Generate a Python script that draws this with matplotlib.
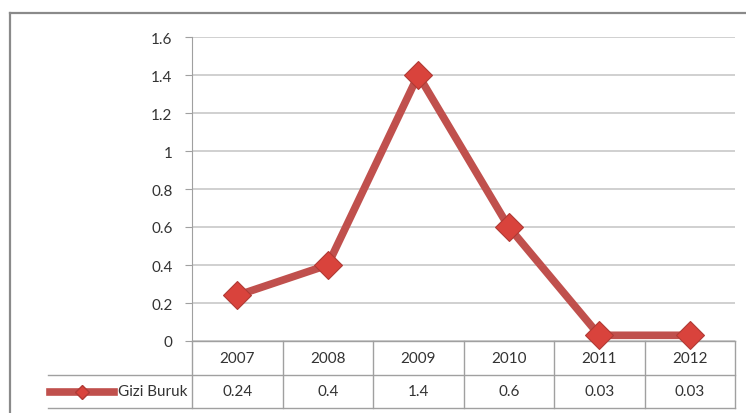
import matplotlib.pyplot as plt
from matplotlib.lines import Line2D
from matplotlib.transforms import blended_transform_factory

years = ['2007', '2008', '2009', '2010', '2011', '2012']
gizi_buruk = [0.24, 0.4, 1.4, 0.6, 0.03, 0.03]
value_labels = ['0.24', '0.4', '1.4', '0.6', '0.03', '0.03']
yticks = [0, 0.2, 0.4, 0.6, 0.8, 1, 1.2, 1.4, 1.6]
ytick_labels = ['0', '0.2', '0.4', '0.6', '0.8', '1', '1.2', '1.4', '1.6']
series_name = 'Gizi Buruk'

plt.rcParams['font.family'] = ['Lato', 'DejaVu Sans']
red = '#c0504d'
grid_c = '#c8c8c8'
tab_c = '#a0a0a0'
txt_c = '#333333'
fs = 11

W, H = 746, 414
fig = plt.figure(figsize=(W / 100, H / 100), dpi=100)
ax = fig.add_axes([192 / W, (H - 342) / H, (735 - 192) / W, (342 - 38) / H])

x = list(range(len(years)))
ax.plot(x, gizi_buruk, color=red, lw=5.5, marker='D', ms=14.5,
        mfc='#d9433c', mec='#b03a35', mew=0.8, zorder=3, clip_on=False)

ax.set_xlim(-0.5, len(years) - 0.5)
ax.set_ylim(0, 1.6)
ax.set_yticks(yticks)
ax.set_yticklabels(ytick_labels, fontsize=fs, color=txt_c)
ax.tick_params(axis='y', length=5, color=tab_c, pad=9)
ax.set_xticks([])
ax.grid(axis='y', color=grid_c, lw=1.2)
ax.set_axisbelow(True)
for s in ['top', 'right', 'bottom']:
    ax.spines[s].set_visible(False)
ax.spines['left'].set_color(tab_c)

# data table below the axes
tr = blended_transform_factory(ax.transData, ax.transAxes)
h_ax = 342 - 38
col_px = (735 - 192) / len(years)
r1 = -(376 - 342) / h_ax
r2 = -(409 - 342) / h_ax
left_cell = -0.5 - (192 - 48) / col_px

ax.plot([-0.5, len(years) - 0.5], [0, 0], transform=tr, color=tab_c, lw=1, clip_on=False)
for yy in (r1, r2):
    ax.plot([left_cell, len(years) - 0.5], [yy, yy], transform=tr, color=tab_c, lw=1, clip_on=False)
for i in range(len(years) + 1):
    ax.plot([i - 0.5, i - 0.5], [0, r2], transform=tr, color=tab_c, lw=1, clip_on=False)

for i, (yr, v) in enumerate(zip(years, value_labels)):
    ax.text(i, r1 / 2, yr, transform=tr, ha='center', va='center', fontsize=fs, color=txt_c)
    ax.text(i, (r1 + r2) / 2, v, transform=tr, ha='center', va='center', fontsize=fs, color=txt_c)

ymid = (r1 + r2) / 2
ax.text(-0.5 - 4 / col_px, ymid, series_name, transform=tr, ha='right', va='center',
        fontsize=fs, color=txt_c)
lx0 = -0.5 - (192 - 50) / col_px
lx1 = -0.5 - (192 - 114) / col_px
ax.add_line(Line2D([lx0, lx1], [ymid, ymid], transform=tr, color=red, lw=5.5,
                   clip_on=False))
ax.add_line(Line2D([(lx0 + lx1) / 2], [ymid], transform=tr, marker='D', ms=7,
                   mfc='#d9433c', mec='#b03a35', color=red, clip_on=False))

# outer chart border
fig.add_artist(Line2D([10 / W, 10 / W], [0, (H - 14) / H], color='#8a8a8a', lw=1.6))
fig.add_artist(Line2D([10 / W, 1], [(H - 14) / H, (H - 14) / H], color='#8a8a8a', lw=1.6))

fig.savefig('out.png', dpi=100)
